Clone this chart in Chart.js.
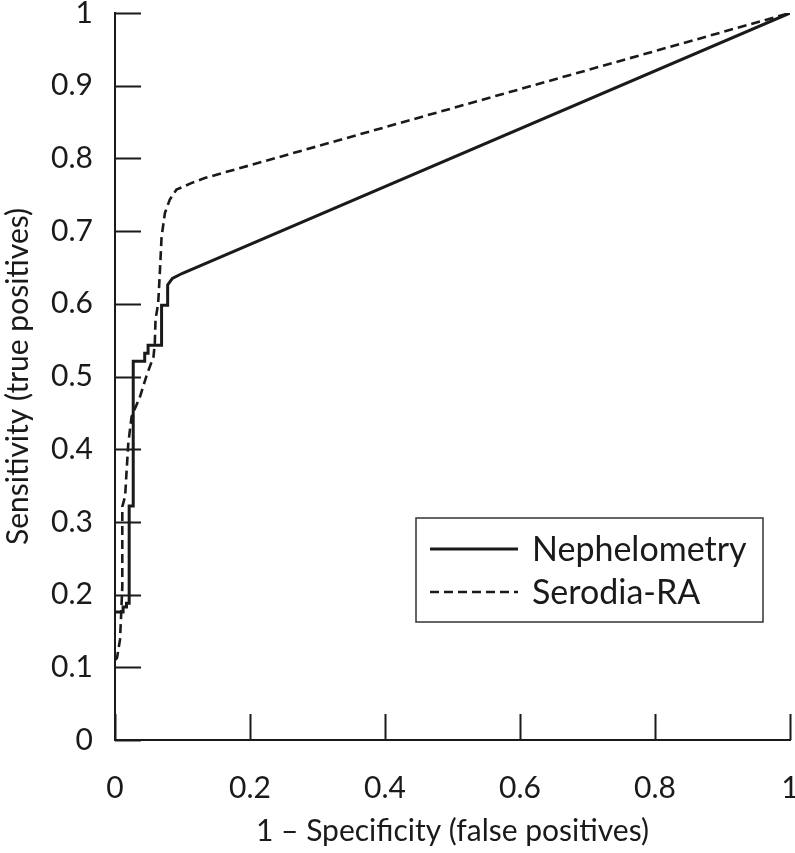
<!DOCTYPE html>
<html>
<head>
<meta charset="utf-8">
<script src="https://cdn.jsdelivr.net/npm/chart.js@4"></script>
<style>
  html, body { margin: 0; padding: 0; background: #fff; }
  #roc { display: block; }
</style>
</head>
<body>
<canvas id="roc" width="795" height="853"></canvas>
<script>
// ROC curves: x = 1 - specificity, y = sensitivity
const nephX = [0, 0.012, 0.012, 0.017, 0.017, 0.021, 0.021, 0.027, 0.027, 0.044, 0.044, 0.049, 0.049, 0.069, 0.069, 0.078, 0.078, 0.085, 0.1, 1];
const nephY = [0.176, 0.176, 0.183, 0.183, 0.188, 0.188, 0.322, 0.322, 0.521, 0.521, 0.532, 0.532, 0.543, 0.543, 0.598, 0.598, 0.626, 0.635, 0.642, 1];

const seroX = [0, 0.003, 0.0074, 0.009, 0.0108, 0.0108, 0.015, 0.017, 0.0197, 0.0246, 0.037, 0.047, 0.057, 0.059, 0.06, 0.064, 0.0666, 0.069, 0.074, 0.081, 0.091, 0.113, 0.133, 1];
const seroY = [0.11, 0.113, 0.138, 0.17, 0.211, 0.321, 0.335, 0.367, 0.408, 0.445, 0.472, 0.502, 0.527, 0.546, 0.578, 0.601, 0.646, 0.692, 0.725, 0.743, 0.757, 0.766, 0.773, 1];

const seriesNames = ['Nephelometry', 'Serodia-RA'];

const xTicks = [0, 0.2, 0.4, 0.6, 0.8, 1];
const xTickLabels = ['0', '0.2', '0.4', '0.6', '0.8', '1'];
const yTicks = [0, 0.1, 0.2, 0.3, 0.4, 0.5, 0.6, 0.7, 0.8, 0.9, 1];
const yTickLabels = ['0', '0.1', '0.2', '0.3', '0.4', '0.5', '0.6', '0.7', '0.8', '0.9', '1'];

const FONT = 'Lato, "Open Sans", sans-serif';
const INK = '#1a1a1a';

function toPoints(xs, ys) {
    return xs.map((x, i) => ({ x: x, y: ys[i] }));
}

// inward tick marks like the printed figure
const innerTicks = {
    id: 'innerTicks',
    afterDraw(chart) {
        const { ctx, chartArea, scales } = chart;
        const len = 26;
        ctx.save();
        ctx.strokeStyle = INK;
        ctx.lineWidth = 2;
        ctx.beginPath();
        xTicks.forEach(v => {
            const px = Math.round(scales.x.getPixelForValue(v)) + 0.5;
            ctx.moveTo(px, chartArea.bottom);
            ctx.lineTo(px, chartArea.bottom - len);
        });
        yTicks.forEach(v => {
            const py = Math.round(scales.y.getPixelForValue(v)) + 0.5;
            ctx.moveTo(chartArea.left, py);
            ctx.lineTo(chartArea.left + len, py);
        });
        ctx.stroke();
        ctx.restore();
    }
};

// boxed legend in the lower right
const boxLegend = {
    id: 'boxLegend',
    afterDraw(chart) {
        const ctx = chart.ctx;
        const bx = 416, by = 518, bw = 347, bh = 104;
        ctx.save();
        ctx.strokeStyle = '#333';
        ctx.lineWidth = 1.5;
        ctx.strokeRect(bx, by, bw, bh);
        ctx.font = '34px ' + FONT;
        ctx.fillStyle = INK;
        ctx.textBaseline = 'middle';
        chart.data.datasets.forEach((ds, i) => {
            const y = by + 31 + i * 43;
            ctx.beginPath();
            ctx.lineWidth = ds.borderWidth;
            ctx.strokeStyle = ds.borderColor;
            ctx.setLineDash(ds.borderDash || []);
            ctx.moveTo(430, y);
            ctx.lineTo(518, y);
            ctx.stroke();
            ctx.setLineDash([]);
            ctx.fillText(ds.label, 532, y + 1);
        });
        ctx.restore();
    }
};

function fixBox(size, prop) {
    return function(scale) {
        scale[prop] = size;
        scale.paddingLeft = 0;
        scale.paddingRight = 0;
        scale.paddingTop = 0;
        scale.paddingBottom = 0;
    };
}

new Chart(document.getElementById('roc'), {
    type: 'scatter',
    data: {
        datasets: [
            {
                label: seriesNames[0],
                data: toPoints(nephX, nephY),
                showLine: true,
                borderColor: INK,
                borderWidth: 3,
                pointRadius: 0,
                tension: 0
            },
            {
                label: seriesNames[1],
                data: toPoints(seroX, seroY),
                showLine: true,
                borderColor: INK,
                borderWidth: 2.6,
                borderDash: [9, 5],
                pointRadius: 0,
                tension: 0
            }
        ]
    },
    options: {
        responsive: false,
        animation: false,
        layout: { padding: { left: 0, right: 5, top: 13, bottom: 0 } },
        plugins: {
            legend: { display: false },
            tooltip: { enabled: false }
        },
        scales: {
            x: {
                type: 'linear',
                min: 0,
                max: 1,
                afterFit: fixBox(113, 'height'),
                afterBuildTicks: scale => { scale.ticks = xTicks.map(v => ({ value: v })); },
                grid: { display: false },
                border: { display: true, color: INK, width: 2 },
                ticks: {
                    color: INK,
                    padding: 22,
                    maxRotation: 0,
                    font: { family: FONT, size: 30 },
                    callback: (v, i) => xTickLabels[i]
                },
                title: {
                    display: true,
                    text: '1 – Specificity (false positives)',
                    color: INK,
                    padding: { top: 0, bottom: 4 },
                    font: { family: FONT, size: 30 }
                }
            },
            y: {
                type: 'linear',
                min: 0,
                max: 1,
                afterFit: fixBox(115, 'width'),
                afterBuildTicks: scale => { scale.ticks = yTicks.map(v => ({ value: v })); },
                grid: { display: false },
                border: { display: true, color: INK, width: 2 },
                ticks: {
                    color: INK,
                    padding: 14,
                    font: { family: FONT, size: 30 },
                    callback: (v, i) => yTickLabels[i]
                },
                title: {
                    display: true,
                    text: 'Sensitivity (true positives)',
                    color: INK,
                    padding: { top: 0, bottom: 0 },
                    font: { family: FONT, size: 30 }
                }
            }
        }
    },
    plugins: [innerTicks, boxLegend]
});
</script>
</body>
</html>
